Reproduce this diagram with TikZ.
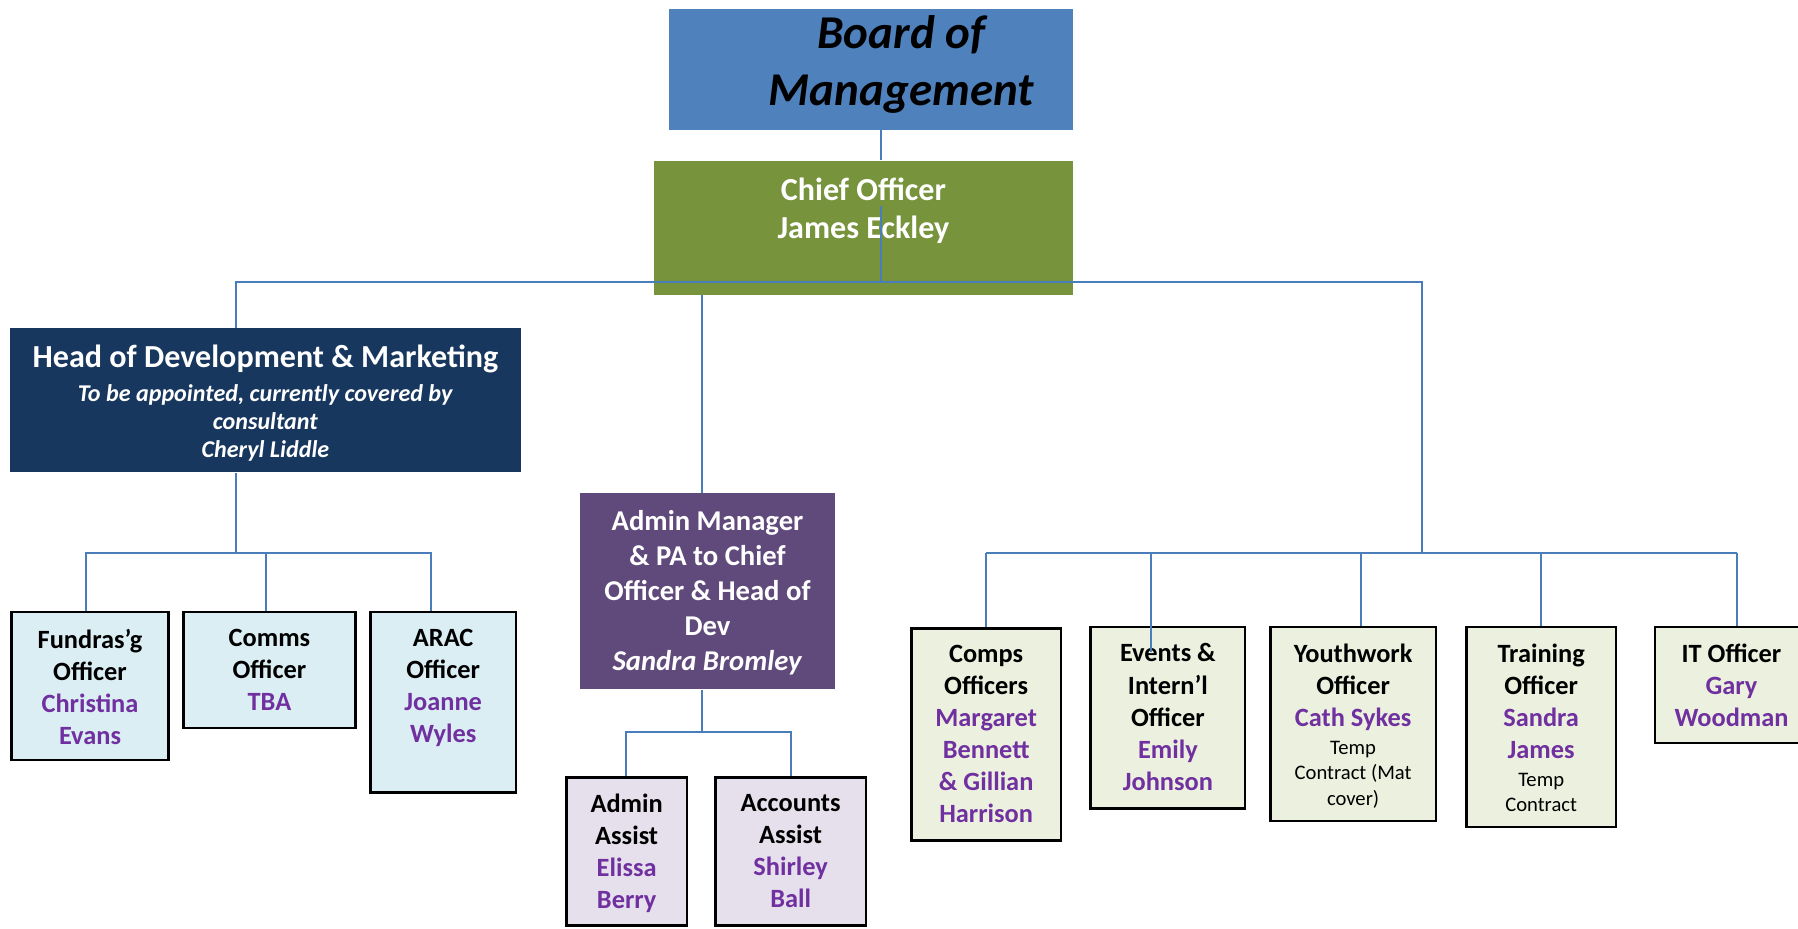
\documentclass[tikz,border=0pt]{standalone}
\usepackage{fontspec}
\setmainfont{Carlito}
\usetikzlibrary{positioning}

\definecolor{boardblue}{HTML}{4F81BD}
\definecolor{chiefgreen}{HTML}{77933C}
\definecolor{headnavy}{HTML}{17375E}
\definecolor{adminpurple}{HTML}{604A7B}
\definecolor{paleblue}{HTML}{DBEEF4}
\definecolor{palelilac}{HTML}{E5E0EC}
\definecolor{palegreen}{HTML}{EBF1DE}
\definecolor{namepurple}{HTML}{7030A0}
\definecolor{linkblue}{HTML}{4A7EBB}

\tikzset{
  link/.style={draw=linkblue, line width=0.8pt},
  staff/.style={draw=black, line width=1pt, inner sep=0pt},
  txt/.style={inner sep=0pt, align=center, font=\fontsize{11.5}{14}\selectfont\bfseries},
}
\newcommand{\nm}[1]{\textcolor{namepurple}{#1}}
\newcommand{\tmp}[1]{{\fontsize{9}{11}\selectfont\mdseries #1}}

\begin{document}
\begin{tikzpicture}[x=0.5pt,y=-0.5pt]
\useasboundingbox (0,0) rectangle (1568,810);

% board and chief officer
\node[fill=boardblue, minimum width=176.5pt, minimum height=52.5pt] (board) at (759.5,60.5) {};
\node[txt, anchor=north, font=\fontsize{20.5}{25}\selectfont\bfseries\itshape] (boardT) at (786,13) {Board of\\Management};
\node[fill=chiefgreen, minimum width=183pt, minimum height=58.5pt] (chief) at (753,198.5) {};
\node[txt, text=white, font=\fontsize{14}{16.75}\selectfont\bfseries, below=7.6pt of chief.north] (chiefT) {Chief Officer\\James Eckley};

% second row
\node[fill=headnavy, minimum width=222.5pt, minimum height=63pt] (head) at (231.5,349) {};
\node[txt, text=white, font=\fontsize{10.5}{12.3}\selectfont\bfseries, below=7.3pt of head.north] (headT)
  {{\fontsize{14}{16}\selectfont Head of Development \& Marketing}\\[2.5pt]
   \textit{To be appointed, currently covered by}\\\textit{consultant}\\\textit{Cheryl Liddle}};
\node[fill=adminpurple, minimum width=111pt, minimum height=85.5pt] (admin) at (617,515.5) {};
\node[txt, text=white, font=\fontsize{12.5}{15.25}\selectfont\bfseries, below=7.6pt of admin.north] (adminT)
  {Admin Manager\\\& PA to Chief\\Officer \& Head of\\Dev\\\textit{Sandra Bromley}};

% development team
\node[staff, fill=paleblue, minimum width=68.5pt, minimum height=64.5pt] (fund) at (78.5,598.5) {};
\node[txt, below=7.5pt of fund.north] (fundT) {Fundras’g\\Officer\\\nm{Christina}\\\nm{Evans}};
\node[staff, fill=paleblue, minimum width=75pt, minimum height=50.5pt] (comms) at (235,584.5) {};
\node[txt, below=7.5pt of comms.north] (commsT) {Comms\\Officer\\\nm{TBA}};
\node[staff, fill=paleblue, minimum width=63.5pt, minimum height=78.5pt] (arac) at (386.5,612.5) {};
\node[txt, below=7.5pt of arac.north] (aracT) {ARAC\\Officer\\\nm{Joanne}\\\nm{Wyles}};

% admin team
\node[staff, fill=palelilac, minimum width=52.5pt, minimum height=64.5pt] (admasst) at (546.5,742.5) {};
\node[txt, below=7.5pt of admasst.north] (admasstT) {Admin\\Assist\\\nm{Elissa}\\\nm{Berry}};
\node[staff, fill=palelilac, minimum width=65.5pt, minimum height=64.5pt] (accasst) at (689.5,742.5) {};
\node[txt, below=7.5pt of accasst.north] (accasstT) {Accounts\\Assist\\\nm{Shirley}\\\nm{Ball}};

% officers
\node[staff, fill=palegreen, minimum width=65pt, minimum height=92.5pt] (comps) at (860,640.5) {};
\node[txt, below=7.5pt of comps.north] (compsT) {Comps\\Officers\\\nm{Margaret}\\\nm{Bennett}\\\nm{\& Gillian}\\\nm{Harrison}};
\node[staff, fill=palegreen, minimum width=67.5pt, minimum height=79pt] (events) at (1018.5,626) {};
\node[txt, below=7.5pt of events.north] (eventsT) {Events \&\\Intern’l\\Officer\\\nm{Emily}\\\nm{Johnson}};
\node[staff, fill=palegreen, minimum width=72pt, minimum height=84.5pt] (youth) at (1180,631.5) {};
\node[txt, below=7.5pt of youth.north] (youthT) {Youthwork\\Officer\\\nm{Cath Sykes}\\[-2pt]\tmp{Temp}\\[-2.7pt]\tmp{Contract (Mat}\\[-2.7pt]\tmp{cover)}};
\node[staff, fill=palegreen, minimum width=65pt, minimum height=87pt] (train) at (1344,634) {};
\node[txt, below=7.5pt of train.north] (trainT) {Training\\Officer\\\nm{Sandra}\\\nm{James}\\[-2pt]\tmp{Temp}\\[-2.8pt]\tmp{Contract}};
\node[staff, fill=palegreen, minimum width=67pt, minimum height=50.5pt] (itoff) at (1510,597.5) {};
\node[txt, below=7.5pt of itoff.north] (itoffT) {IT Officer\\\nm{Gary}\\\nm{Woodman}};

% connectors
\coordinate (hub) at (768,246);
\coordinate (hubin) at (768,180);
\coordinate (hL) at (206,246);
\coordinate (hR) at (1240,246);
\coordinate (hA) at (612,246);
\coordinate (lbus) at (206,482);
\coordinate (rbus) at (1240,482);
\coordinate (abus) at (612,638);
\draw[link] (hub |- board.south) -- (hub |- chief.north);
\draw[link] (hubin) -- (hub);
\draw[link] (hL |- head.north) -- (hL) -- (hR) -- (rbus);
\draw[link] (hA |- chief.south) -- (hA |- admin.north);
% development
\draw[link] (lbus |- head.south) -- (lbus);
\draw[link] (75,534 |- fund.north) -- (75,482) -- (376,482) -- (376,482 |- arac.north);
\draw[link] (232,482) -- (232,482 |- comms.north);
% admin
\draw[link] (abus |- admin.south) -- (abus);
\draw[link] (546,678 |- admasst.north) -- (546,638) -- (690,638) -- (690,638 |- accasst.north);
% officers
\draw[link] (860,482) -- (1515,482);
\foreach \n/\x in {comps/860, youth/1187, train/1344, itoff/1515}
  \draw[link] (\x,482) -- (\x,482 |- \n.north);
\draw[link] (1004,482) -- ([yshift=-11.5pt]1004,482 |- events.north);
\end{tikzpicture}
\end{document}
